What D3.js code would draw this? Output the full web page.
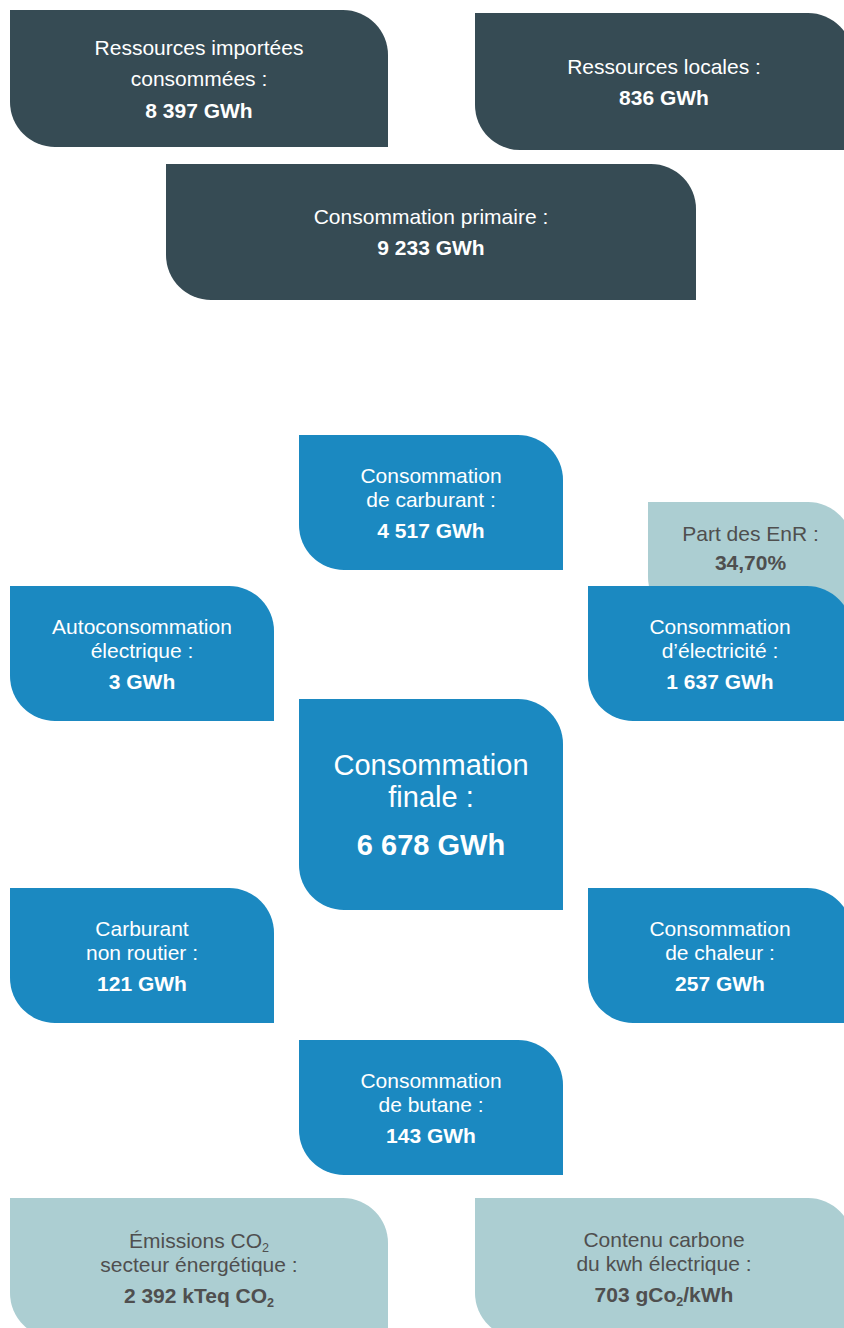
<!DOCTYPE html>
<html>
<head>
<meta charset="utf-8">
<script src="https://cdn.jsdelivr.net/npm/d3@7"></script>
<style>
  html, body { margin: 0; padding: 0; background: #fff; }
  svg { display: block; }
</style>
</head>
<body>
<div id="chart-container"></div>
<script>
// box contents
const titles = [
    ["Ressources importées", "consommées :"],
    ["Ressources locales :"],
    ["Consommation primaire :"],
    ["Consommation", "de carburant :"],
    ["Part des EnR :"],
    ["Autoconsommation", "électrique :"],
    ["Consommation", "d’électricité :"],
    ["Consommation", "finale :"],
    ["Carburant", "non routier :"],
    ["Consommation", "de chaleur :"],
    ["Consommation", "de butane :"],
    ["Émissions CO₂", "secteur énergétique :"],
    ["Contenu carbone", "du kwh électrique :"]
];
const values = [8397, 836, 9233, 4517, 34.70, 3, 1637, 6678, 121, 257, 143, 2392, 703];
const units = ["GWh", "GWh", "GWh", "GWh", "%", "GWh", "GWh", "GWh", "GWh", "GWh", "GWh", "kTeq CO₂", "gCo₂/kWh"];
const kinds = ["ressource", "ressource", "ressource", "conso", "indicateur", "conso", "conso", "conso",
               "conso", "conso", "conso", "indicateur", "indicateur"];

// layout (pixels), drawn in this order
const layout = [
    { x: 10,  y: 10,   w: 378, h: 137, lineGap: 31, valueGap: 32 },
    { x: 475, y: 13,   w: 378, h: 137 },
    { x: 166, y: 164,  w: 530, h: 136 },
    { x: 299, y: 435,  w: 264, h: 135 },
    { x: 648, y: 502,  w: 205, h: 120, cy: 548, valueGap: 29 },
    { x: 10,  y: 586,  w: 264, h: 135 },
    { x: 588, y: 586,  w: 264, h: 135 },
    { x: 299, y: 699,  w: 264, h: 211, fs: 29, lineGap: 32, valueGap: 48 },
    { x: 10,  y: 888,  w: 264, h: 135 },
    { x: 588, y: 888,  w: 264, h: 135 },
    { x: 299, y: 1040, w: 264, h: 135 },
    { x: 10,  y: 1198, w: 378, h: 140, cy: 1268 },
    { x: 475, y: 1198, w: 378, h: 140, cy: 1266.5 }
];

const width = 844, height = 1328, radius = 45;

const fill = d3.scaleOrdinal()
    .domain(["ressource", "conso", "indicateur"])
    .range(["#364b54", "#1b89c1", "#acced2"]);
const ink = d3.scaleOrdinal()
    .domain(["ressource", "conso", "indicateur"])
    .range(["#ffffff", "#ffffff", "#4f4f4f"]);

const fr = d3.formatLocale({ decimal: ",", thousands: " ", grouping: [3], currency: ["", " €"] });
const fmtInt = fr.format(",d");
const fmtPct = fr.format(",.2f");

function valueText(i) {
    const v = units[i] === "%" ? fmtPct(values[i]) : fmtInt(values[i]);
    return units[i] === "%" ? v + "%" : v + " " + units[i];
}

function boxPath(b) {
    const r = radius;
    return `M${b.x},${b.y}H${b.x + b.w - r}A${r},${r} 0 0 1 ${b.x + b.w},${b.y + r}` +
        `V${b.y + b.h}H${b.x + r}A${r},${r} 0 0 1 ${b.x},${b.y + b.h - r}Z`;
}

// writes text, turning "₂" into a real subscript tspan
function writeText(sel, str, fs) {
    const parts = str.split("₂");
    const drop = fs * 0.2;
    parts.forEach((p, k) => {
        if (p) {
            sel.append("tspan")
                .attr("dy", k > 0 ? -drop : null)
                .text(p);
        }
        if (k < parts.length - 1) {
            sel.append("tspan")
                .attr("font-size", fs * 0.6)
                .attr("dy", drop)
                .text("2");
        }
    });
}

const svg = d3.select("#chart-container")
    .append("svg")
    .attr("width", width)
    .attr("height", height)
    .attr("font-family", "'Liberation Sans', Arial, Helvetica, sans-serif");

const data = titles.map((t, i) => ({ i, title: t, kind: kinds[i], box: layout[i] }));

const g = svg.selectAll("g.box")
    .data(data)
    .join("g")
    .attr("class", "box");

g.append("path")
    .attr("d", d => boxPath(d.box))
    .attr("fill", d => fill(d.kind));

g.each(function(d) {
    const b = d.box;
    const fs = b.fs || 21;
    const lineGap = b.lineGap || 24;
    const valueGap = b.valueGap || 31;
    const n = d.title.length;
    const span = (n - 1) * lineGap + valueGap;
    const cy = b.cy !== undefined ? b.cy : b.y + b.h / 2;
    const cx = b.x + b.w / 2;
    const top = cy - span / 2;
    const shift = fs * 0.36;
    const sel = d3.select(this);

    d.title.forEach((line, k) => {
        const t = sel.append("text")
            .attr("x", cx)
            .attr("y", top + k * lineGap + shift)
            .attr("text-anchor", "middle")
            .attr("font-size", fs)
            .attr("fill", ink(d.kind));
        writeText(t, line, fs);
    });

    const v = sel.append("text")
        .attr("x", cx)
        .attr("y", top + (n - 1) * lineGap + valueGap + shift)
        .attr("text-anchor", "middle")
        .attr("font-size", fs)
        .attr("font-weight", "bold")
        .attr("fill", ink(d.kind));
    writeText(v, valueText(d.i), fs);
});
</script>
</body>
</html>
